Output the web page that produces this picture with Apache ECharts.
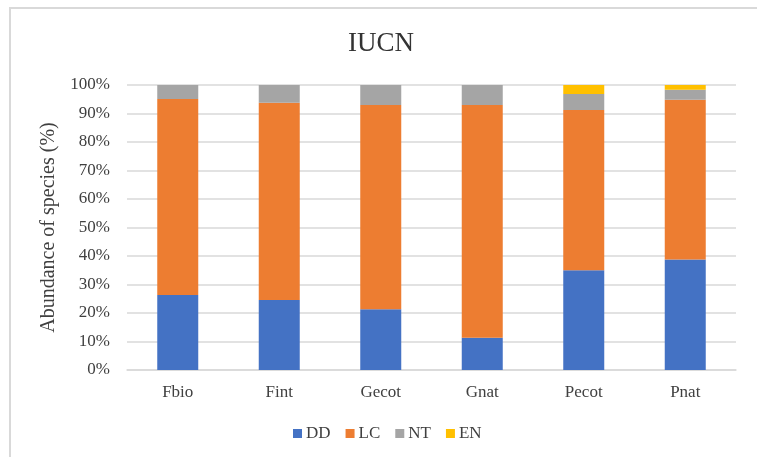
<!DOCTYPE html>
<html>
<head>
<meta charset="utf-8">
<script src="https://cdn.jsdelivr.net/npm/echarts@6/dist/echarts.min.js"></script>
<style>
html,body{margin:0;padding:0;background:#fff;}
#chart{width:757px;height:457px;}
</style>
</head>
<body>
<div id="chart"></div>
<script>
var categories = ['Fbio', 'Fint', 'Gecot', 'Gnat', 'Pecot', 'Pnat'];
var seriesNames = ['DD', 'LC', 'NT', 'EN'];
var DD = [26.3, 24.6, 21.3, 11.3, 35.0, 38.8];
var LC = [68.8, 69.2, 71.7, 81.7, 56.2, 56.0];
var NT = [4.9, 6.2, 7.0, 7.0, 5.6, 3.5];
var EN = [0, 0, 0, 0, 3.2, 1.7];
var colors = ['#4472C4', '#ED7D31', '#A5A5A5', '#FFC000'];
var values = [DD, LC, NT, EN];

var serif = '"Liberation Serif", "Times New Roman", serif';
var chart = echarts.init(document.getElementById('chart'));
chart.setOption({
  animation: false,
  color: colors,
  graphic: [{
    type: 'rect',
    shape: {x: 10, y: 8, width: 800, height: 500},
    style: {fill: 'none', stroke: '#d9d9d9', lineWidth: 2},
    silent: true
  }],
  title: {
    text: 'IUCN',
    left: 348,
    top: 30,
    padding: 0,
    textStyle: {fontFamily: serif, fontSize: 27, fontWeight: 'normal', color: '#333333'}
  },
  legend: {
    data: seriesNames,
    bottom: 15,
    left: 293,
    padding: 0,
    icon: 'rect',
    itemWidth: 9,
    itemHeight: 9,
    itemGap: 15,
    textStyle: {fontFamily: serif, fontSize: 17, color: '#404040', padding: [0, 0, 0, -1]}
  },
  grid: {left: 127, right: 21, top: 85, bottom: 87, containLabel: false},
  xAxis: {
    type: 'category',
    data: categories,
    axisLine: {lineStyle: {color: '#d9d9d9', width: 1.5}},
    axisTick: {show: false},
    axisLabel: {fontFamily: serif, fontSize: 17, color: '#404040', margin: 14}
  },
  yAxis: {
    type: 'value',
    min: 0,
    max: 100,
    interval: 10,
    name: 'Abundance of species (%)',
    nameLocation: 'middle',
    nameGap: 68,
    nameTextStyle: {fontFamily: serif, fontSize: 20, color: '#404040'},
    axisLine: {show: false},
    axisTick: {show: false},
    axisLabel: {fontFamily: serif, fontSize: 17, color: '#404040', margin: 17, formatter: '{value}%'},
    splitLine: {lineStyle: {color: '#d9d9d9', width: 1.5}}
  },
  series: seriesNames.map(function (n, i) {
    return {
      name: n,
      type: 'bar',
      stack: 'total',
      barWidth: 41,
      data: values[i]
    };
  })
});
</script>
</body>
</html>
